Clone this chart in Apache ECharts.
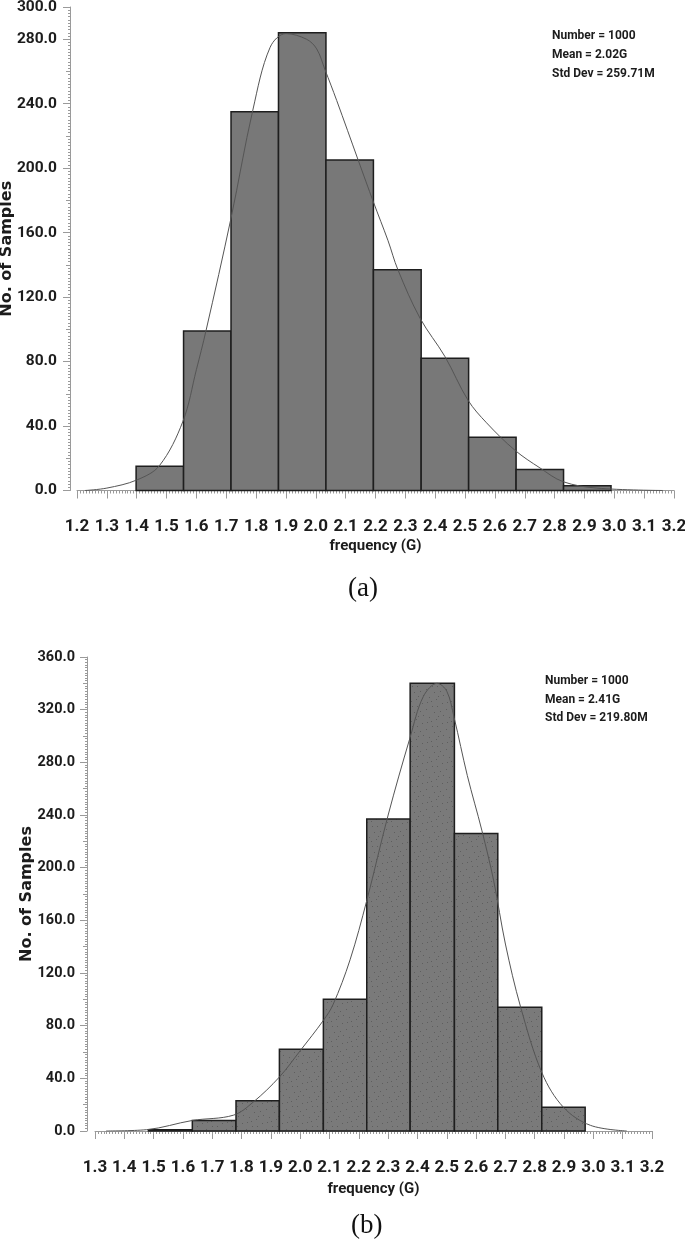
<!DOCTYPE html>
<html><head><meta charset="utf-8">
<script src="https://cdn.jsdelivr.net/npm/echarts@6/dist/echarts.min.js"></script>
<style>html,body{margin:0;padding:0;background:#fff}#c{width:685px;height:1245px}</style>
</head><body><div id="c"></div>
<script>
// ---------- data ----------
const binEdgesA = [1.398, 1.557, 1.716, 1.875, 2.034, 2.193, 2.353, 2.512, 2.671, 2.830, 2.989];
const countsA   = [15, 99, 235, 284, 205, 137, 82, 33, 13, 3];
const curveXA   = [1.227, 1.30, 1.40, 1.476, 1.555, 1.60, 1.632, 1.716, 1.789, 1.847, 1.90, 1.969, 2.003, 2.031, 2.07, 2.142, 2.193, 2.242, 2.275, 2.349, 2.433, 2.51, 2.572, 2.667, 2.751, 2.828, 2.941, 3.163];
const curveYA   = [0, 1.5, 6.5, 15.4, 43, 75, 99, 169, 236, 275, 283.5, 280, 274, 261, 242, 205, 179, 155, 137, 107, 83, 56, 42, 25, 14, 5.5, 1.5, 0];
const statsA    = ['Number = 1000', 'Mean = 2.02G', 'Std Dev = 259.71M'];

const binEdgesB = [1.482, 1.632, 1.781, 1.929, 2.079, 2.227, 2.375, 2.526, 2.674, 2.824, 2.972];
const countsB   = [1, 8, 23, 62, 100, 237, 340, 226, 94, 18];
const curveXB   = [1.338, 1.476, 1.632, 1.772, 1.84, 1.929, 2.0, 2.079, 2.112, 2.17, 2.227, 2.30, 2.375, 2.42, 2.467, 2.50, 2.525, 2.57, 2.62, 2.66, 2.70, 2.752, 2.825, 2.898, 2.99, 3.114];
const curveYB   = [0, 1, 8, 12, 22, 41, 61, 84, 96, 130, 175, 240, 299, 330, 340, 334, 314, 270, 228, 190, 142, 94, 44, 18, 4.3, 0];
const statsB    = ['Number = 1000', 'Mean = 2.41G', 'Std Dev = 219.80M'];

const xRangeA = [1.2, 3.2], yRangeA = [0, 300];
const xRangeB = [1.3, 3.2], yRangeB = [0, 360];
const xStep = 0.1, yStep = 40, yMidStep = 20;
const xTitle = 'frequency (G)';
const yTitle = 'No. of Samples';
const captions = ['(a)', '(b)'];

// ---------- styling ----------
const LBL = "Roboto,'Liberation Sans',sans-serif";
const AXC = '#9a9a9a';
const TXT = '#1c1c1c';

const pc = document.createElement('canvas'); pc.width = 20; pc.height = 20;
const g = pc.getContext('2d'); g.fillStyle = '#7a7a7a'; g.fillRect(0, 0, 20, 20);
g.fillStyle = '#5e5e5e';
[[2,3],[11,1],[17,6],[6,9],[14,12],[3,15],[9,17],[18,16],[12,6],[7,2],[16,19],[0,11]].forEach(p => g.fillRect(p[0], p[1], 1, 1));
const stipple = { image: pc, repeat: 'repeat' };

function histRender(fill) {
  return function (params, api) {
    const p0 = api.coord([api.value(0), api.value(2)]);
    const p1 = api.coord([api.value(1), 0]);
    return { type: 'rect', shape: { x: p0[0], y: p0[1], width: p1[0] - p0[0], height: p1[1] - p0[1] },
      style: { fill: fill, stroke: '#1e1e1e', lineWidth: 1.5 } };
  };
}
const f1 = v => Number(v).toFixed(1);

function xAxisFor(gi, range, offset, margin, nameGap) {
  return { type: 'value', gridIndex: gi, position: 'bottom', min: range[0], max: range[1], interval: xStep, offset: offset,
    axisLine: { show: true, lineStyle: { color: AXC, width: 1 } },
    axisTick: { show: true, length: 8, lineStyle: { color: AXC } },
    minorTick: { show: true, splitNumber: 10, length: 3, lineStyle: { color: AXC } },
    splitLine: { show: false }, minorSplitLine: { show: false },
    axisLabel: { formatter: f1, margin: margin, color: TXT, fontFamily: LBL, fontWeight: 'bold', fontSize: 17 },
    name: xTitle, nameLocation: 'middle', nameGap: nameGap, nameMoveOverlap: false,
    nameTextStyle: { color: TXT, fontFamily: LBL, fontWeight: 'bold', fontSize: 15 } };
}
function yAxisFor(gi, range, offset, labelSize, margin, nameGap) {
  return { type: 'value', gridIndex: gi, position: 'left', min: range[0], max: range[1], interval: yStep, offset: offset,
    axisLine: { show: true, lineStyle: { color: AXC, width: 1 } },
    axisTick: { show: true, length: 7, lineStyle: { color: AXC } },
    splitLine: { show: false },
    axisLabel: { formatter: f1, margin: margin, color: TXT, fontFamily: LBL, fontWeight: 'bold', fontSize: labelSize },
    name: yTitle, nameLocation: 'middle', nameGap: nameGap, nameRotate: 90, nameMoveOverlap: false,
    nameTextStyle: { color: TXT, fontFamily: "'DejaVu Sans',sans-serif", fontWeight: 'bold', fontSize: 16 } };
}
function yMidAxisFor(gi, range, offset) {
  return { type: 'value', gridIndex: gi, position: 'left', min: range[0], max: range[1], interval: yMidStep, offset: offset,
    axisLine: { show: false }, axisLabel: { show: false }, splitLine: { show: false },
    axisTick: { show: true, length: 4, lineStyle: { color: AXC } },
    minorTick: { show: true, splitNumber: 10, length: 2, lineStyle: { color: AXC } }, minorSplitLine: { show: false } };
}
function statText(lines, x, y0, step) {
  return lines.map((t, i) => ({ type: 'text', left: x, top: y0 + i * step,
    style: { text: t, fill: TXT, font: "bold 12px " + LBL } }));
}

const chart = echarts.init(document.getElementById('c'), null, { renderer: 'canvas' });
chart.setOption({
  animation: false,
  backgroundColor: '#fff',
  grid: [
    { left: 77, top: 7, width: 597, height: 483.5, containLabel: false, outerBoundsMode: 'none' },
    { left: 95, top: 657, width: 557, height: 474, containLabel: false, outerBoundsMode: 'none' }
  ],
  xAxis: [ xAxisFor(0, xRangeA, 6, 22, 42), xAxisFor(1, xRangeB, 5, 23, 46) ],
  yAxis: [ yAxisFor(0, yRangeA, 7, 15.5, 13, 55), yMidAxisFor(0, yRangeA, 7),
           yAxisFor(1, yRangeB, 8, 14.5, 12, 52), yMidAxisFor(1, yRangeB, 8) ],
  series: [
    { type: 'custom', xAxisIndex: 0, yAxisIndex: 0, renderItem: histRender('#787878'), encode: { x: [0, 1], y: 2 },
      data: countsA.map((c, i) => [binEdgesA[i], binEdgesA[i + 1], c]), z: 2 },
    { type: 'line', xAxisIndex: 0, yAxisIndex: 0, data: curveXA.map((x, i) => [x, curveYA[i]]), smooth: 0.35,
      symbol: 'none', lineStyle: { color: '#555', width: 1 }, z: 3 },
    { type: 'custom', xAxisIndex: 1, yAxisIndex: 2, renderItem: histRender(stipple), encode: { x: [0, 1], y: 2 },
      data: countsB.map((c, i) => [binEdgesB[i], binEdgesB[i + 1], c]), z: 2 },
    { type: 'line', xAxisIndex: 1, yAxisIndex: 2, data: curveXB.map((x, i) => [x, curveYB[i]]), smooth: 0.35,
      symbol: 'none', lineStyle: { color: '#555', width: 1 }, z: 3 }
  ],
  graphic: [].concat(
    statText(statsA, 552, 30, 19),
    statText(statsB, 545, 675, 18.5),
    [
      { type: 'text', left: 348, top: 575, style: { text: captions[0], fill: '#111', font: "27px 'Liberation Serif',serif" } },
      { type: 'text', left: 351, top: 1212, style: { text: captions[1], fill: '#111', font: "27px 'Liberation Serif',serif" } }
    ]
  )
});
</script>
</body></html>
